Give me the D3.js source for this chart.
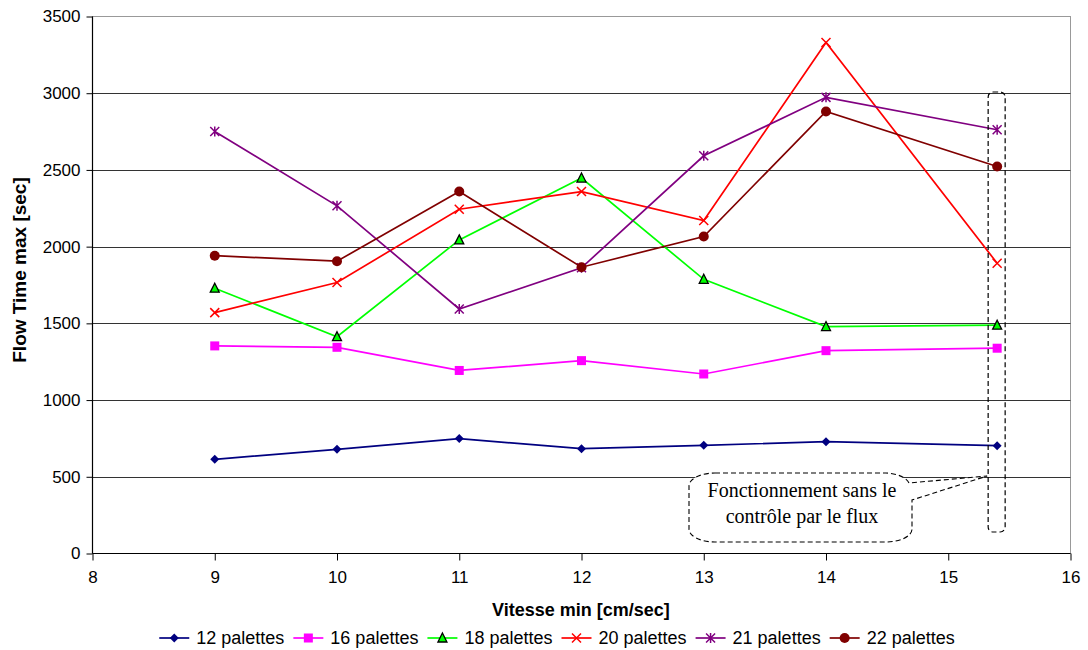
<!DOCTYPE html>
<html><head><meta charset="utf-8">
<script src="https://cdn.jsdelivr.net/npm/d3@7"></script>
<style>body{margin:0;background:#fff}svg{display:block}</style>
</head><body>
<svg id="c" width="1088" height="650" font-family="Liberation Sans, Arial, sans-serif"></svg>
<script>
const xValues = [9, 10, 11, 12, 13, 14, 15.4];
const seriesNames = ["12 palettes", "16 palettes", "18 palettes", "20 palettes", "21 palettes", "22 palettes"];
const s12 = [614, 679, 749, 683, 705, 729, 703];
const s16 = [1353, 1344, 1193, 1257, 1170, 1322, 1338];
const s18 = [1729, 1413, 2044, 2447, 1787, 1479, 1488];
const s20 = [1570, 1766, 2244, 2359, 2170, 3331, 1892];
const s21 = [2751, 2266, 1594, 1862, 2592, 2973, 2762];
const s22 = [1941, 1905, 2359, 1866, 2066, 2881, 2522];
const xTicks = [8, 9, 10, 11, 12, 13, 14, 15, 16];
const yTicks = [0, 500, 1000, 1500, 2000, 2500, 3000, 3500];
const xTitle = "Vitesse min [cm/sec]";
const yTitle = "Flow Time max [sec]";
const noteLines = ["Fonctionnement sans le", "contrôle par le flux"];
const noteX = 15.4;

const colors = ["#000080", "#FF00FF", "#00FF00", "#FF0000", "#800080", "#800000"];
const markers = ["diamond", "square", "triangle", "x", "star", "circle"];
const allSeries = [s12, s16, s18, s20, s21, s22];

const svg = d3.select("#c");
const L = 92.5, R = 1070.5, T = 16.5, B = 553.5;
const x = d3.scaleLinear().domain([8, 16]).range([L, R]);
const y = d3.scaleLinear().domain([0, 3500]).range([B, T]);

// plot border (top/right) grey
svg.append("rect").attr("x", L).attr("y", T).attr("width", R - L).attr("height", B - T)
  .attr("fill", "none").attr("stroke", "#999").attr("stroke-width", 1);

// gridlines
svg.append("g").selectAll("line").data(yTicks.filter(d => d > 0 && d < 3500)).join("line")
  .attr("x1", L).attr("x2", R).attr("y1", d => Math.round(y(d)) + 0.5).attr("y2", d => Math.round(y(d)) + 0.5)
  .attr("stroke", "#333").attr("stroke-width", 1);

// axes
const yAxis = svg.append("g").attr("transform", `translate(${L},0)`)
  .call(d3.axisLeft(y).tickValues(yTicks).tickSize(6).tickPadding(6).tickFormat(d3.format("d")));
const xAxis = svg.append("g").attr("transform", `translate(0,${B})`)
  .call(d3.axisBottom(x).tickValues(xTicks).tickSize(7).tickPadding(10).tickFormat(d3.format("d")));
[yAxis, xAxis].forEach(a => {
  a.attr("font-family", null).attr("font-size", null);
  a.select(".domain").attr("stroke", "#000").attr("stroke-width", 1.2);
  a.selectAll(".tick line").attr("stroke", "#000");
  a.selectAll("text").attr("font-size", 17).attr("fill", "#000");
});
xAxis.select(".domain").attr("d", `M${L},0H${R}`);
yAxis.select(".domain").attr("d", `M0,${B}V${T}`);

// titles
svg.append("text").attr("x", 581).attr("y", 616).attr("text-anchor", "middle")
  .attr("font-size", 18).attr("font-weight", "bold").text(xTitle);
svg.append("text").attr("transform", "translate(26,270) rotate(-90)").attr("text-anchor", "middle")
  .attr("font-size", 19).attr("font-weight", "bold").text(yTitle);

// marker drawing
function drawMarker(g, type, color, cx, cy) {
  const s = 4.5;
  if (type === "diamond") {
    g.append("path").attr("d", `M${cx},${cy - s}L${cx + s},${cy}L${cx},${cy + s}L${cx - s},${cy}Z`).attr("fill", color);
  } else if (type === "square") {
    g.append("rect").attr("x", cx - s).attr("y", cy - s).attr("width", 2 * s).attr("height", 2 * s).attr("fill", color);
  } else if (type === "triangle") {
    g.append("path").attr("d", `M${cx},${cy - 5}L${cx + 4.5},${cy + 4}L${cx - 4.5},${cy + 4}Z`)
      .attr("fill", color).attr("stroke", "#000").attr("stroke-width", 1.3);
  } else if (type === "x") {
    g.append("path").attr("d", `M${cx - s},${cy - s}L${cx + s},${cy + s}M${cx - s},${cy + s}L${cx + s},${cy - s}`)
      .attr("stroke", color).attr("stroke-width", 1.5).attr("fill", "none");
  } else if (type === "star") {
    g.append("path").attr("d", `M${cx - s},${cy - s}L${cx + s},${cy + s}M${cx - s},${cy + s}L${cx + s},${cy - s}M${cx},${cy - s - 0.5}V${cy + s + 0.5}`)
      .attr("stroke", color).attr("stroke-width", 1.5).attr("fill", "none");
  } else if (type === "circle") {
    g.append("circle").attr("cx", cx).attr("cy", cy).attr("r", 5).attr("fill", color);
  }
}

// series
const line = d3.line().x((d, i) => x(xValues[i])).y(d => y(d));
allSeries.forEach((data, k) => {
  const g = svg.append("g");
  g.append("path").datum(data).attr("d", line).attr("fill", "none")
    .attr("stroke", colors[k]).attr("stroke-width", 1.7);
  data.forEach((v, i) => drawMarker(g, markers[k], colors[k], x(xValues[i]), y(v)));
});

// dashed highlight box around last column
const bx = x(noteX);
svg.append("rect").attr("x", bx - 9).attr("y", 92).attr("width", 17).attr("height", 440)
  .attr("rx", 5).attr("ry", 5).attr("fill", "none").attr("stroke", "#000")
  .attr("stroke-width", 1.2).attr("stroke-dasharray", "5,3");

// callout
const cl = 689, cr = 912, ct = 473, cb = 542, rx = 26, ry = 13;
const tipX = bx - 10, tipY = 476;
const cp = `M${cl + rx},${ct}H${cr - rx}A${rx},${ry} 0 0 1 ${cr - 3},${ct + 10}L${tipX},${tipY}L${cr},${500}V${cb - ry}A${rx},${ry} 0 0 1 ${cr - rx},${cb}H${cl + rx}A${rx},${ry} 0 0 1 ${cl},${cb - ry}V${ct + ry}A${rx},${ry} 0 0 1 ${cl + rx},${ct}Z`;
svg.append("path").attr("d", cp).attr("fill", "#fff").attr("stroke", "#000")
  .attr("stroke-width", 1.1).attr("stroke-dasharray", "5,3");
noteLines.forEach((t, i) => {
  svg.append("text").attr("x", 802).attr("y", 497 + i * 26).attr("text-anchor", "middle")
    .attr("font-family", "Liberation Serif, Times New Roman, serif").attr("font-size", 20)
    .attr("fill", "#000").text(t);
});

// legend
const leg = svg.append("g");
let cursor = 0;
seriesNames.forEach((name, k) => {
  const g = leg.append("g");
  g.append("line").attr("x1", 0).attr("x2", 30).attr("y1", 0).attr("y2", 0).attr("stroke", colors[k]).attr("stroke-width", 1.7);
  drawMarker(g, markers[k], colors[k], 15, 0);
  const t = g.append("text").attr("x", 37).attr("y", 6).attr("font-size", 18).attr("fill", "#000").text(name);
  const w = 37 + t.node().getComputedTextLength();
  g.attr("transform", `translate(${cursor},0)`);
  cursor += w + 9;
});
const total = cursor - 9;
leg.attr("transform", `translate(${557 - total / 2},638)`);
</script>
</body></html>
